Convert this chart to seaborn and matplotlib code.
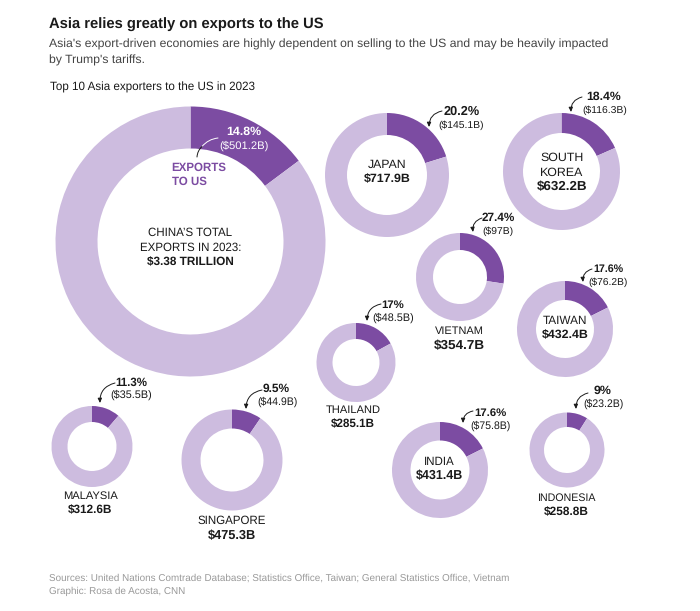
import matplotlib
matplotlib.use("Agg")
import matplotlib.pyplot as plt
import seaborn as sns

# --- data ---
countries = ["CHINA", "JAPAN", "SOUTH KOREA", "VIETNAM", "TAIWAN", "THAILAND", "INDIA", "INDONESIA", "MALAYSIA", "SINGAPORE"]
total_labels = ["$3.38 TRILLION", "$717.9B", "$632.2B", "$354.7B", "$432.4B", "$285.1B", "$431.4B", "$258.8B", "$312.6B", "$475.3B"]
us_share = [14.8, 20.2, 18.4, 27.4, 17.6, 17.0, 17.6, 9.0, 11.3, 9.5]
share_labels = ["14.8%", "20.2%", "18.4%", "27.4%", "17.6%", "17%", "17.6%", "9%", "11.3%", "9.5%"]
us_labels = ["($501.2B)", "($145.1B)", "($116.3B)", "($97B)", "($76.2B)", "($48.5B)", "($75.8B)", "($23.2B)", "($35.5B)", "($44.9B)"]

# --- layout in reference pixels, separate from the data ---
W, H = 700, 611
centers = [(190.5, 241.5), (387, 175), (561.5, 171.5), (460, 277), (565, 329), (356, 362.5), (440, 470), (567, 450), (92, 446.5), (232, 460)]
outer = [135, 62, 58.5, 44, 48, 39.5, 48, 37.5, 40.5, 50.5]
inner = [93, 40, 38.5, 27, 29, 23.5, 29.5, 23, 24.5, 31.5]
# country label: x, name y, value y, name size, value size, name lines
labels = {
    1: (387, [165], 179, 8.8, 8.9, ["JAPAN"]),
    2: (562, [158, 173], 187, 8.9, 9.6, ["SOUTH", "KOREA"]),
    3: (459, [331], 346, 7.9, 9.7, ["VIETNAM"]),
    4: (565, [321], 335, 8.5, 8.9, ["TAIWAN"]),
    5: (353, [410], 424, 8.0, 8.4, ["THAILAND"]),
    6: (439, [462], 476, 8.3, 9.0, ["INDIA"]),
    7: (566, [498], 512, 7.7, 8.6, ["INDONESIA"]),
    8: (90, [496], 510, 8.0, 8.5, ["MALAYSIA"]),
    9: (232, [521], 536, 8.3, 9.2, ["SINGAPORE"]),
}
# share label x,y,size ; us label x,y,size ; arrow start ; arrow end ; curvature
callouts = {
    1: (462, 112, 9.2, 461.5, 125, 7.5, (442, 111), (429, 127), 0.4),
    2: (604, 97, 8.8, 604.5, 110, 7.5, (582, 97), (571, 112), 0.4),
    3: (498, 218, 8.5, 498, 231, 7.5, (482, 218), (473, 232), 0.4),
    4: (608, 269, 7.7, 608.5, 282, 7.4, (592, 269), (583, 282), 0.4),
    5: (393, 305, 8.2, 393.5, 318, 7.8, (381, 304), (367, 321), 0.4),
    6: (490, 413, 8.2, 490, 426, 7.6, (473, 411), (463, 423), 0.4),
    7: (602.5, 391, 8.9, 603, 404, 7.6, (588, 393), (576, 409), 0.4),
    8: (131, 383, 8.3, 131.5, 395, 7.8, (115, 383), (100, 403), 0.4),
    9: (276, 389, 8.6, 277, 402, 7.6, (262, 390), (246, 409), 0.4),
}

sns.set_theme(style="white")
plt.rcParams["font.family"] = ["Liberation Sans", "DejaVu Sans"]
plt.rcParams["text.hinting"] = "no_hinting"
LIGHT, DARK = "#cdbcdf", "#7c4ca2"
INK = "#1a1a1a"

fig = plt.figure(figsize=(W / 100, H / 100), dpi=100, facecolor="white")

for share, (cx, cy), ro, ri in zip(us_share, centers, outer, inner):
    ax = fig.add_axes([(cx - ro) / W, 1 - (cy + ro) / H, 2 * ro / W, 2 * ro / H])
    ax.pie([share, 100 - share], colors=[DARK, LIGHT], startangle=90, counterclock=False,
           radius=1, wedgeprops=dict(width=1 - ri / ro, linewidth=0))
    ax.set_xlim(-1, 1)
    ax.set_ylim(-1, 1)
    ax.axis("off")

ov = fig.add_axes([0, 0, 1, 1], zorder=5)
ov.set_xlim(0, W)
ov.set_ylim(H, 0)
ov.axis("off")
ov.patch.set_alpha(0)


def t(x, y, s, size=8.3, weight="normal", color=INK, ha="center"):
    ov.text(x, y, s, fontsize=size, fontweight=weight, color=color, ha=ha, va="center")


def arrow(a, b, c, rad, style="-|>,head_width=0.1,head_length=0.22"):
    ov.annotate("", xy=b, xytext=a,
                arrowprops=dict(arrowstyle=style, color=c, lw=0.7,
                                connectionstyle=f"arc3,rad={rad}", shrinkA=0, shrinkB=0))


t(49, 24.5, "Asia relies greatly on exports to the US", 10.6, "bold", ha="left")
t(49, 44, "Asia's export-driven economies are highly dependent on selling to the US and may be heavily impacted", 8.8, color="#444444", ha="left")
t(49, 60.5, "by Trump's tariffs.", 8.8, color="#444444", ha="left")
t(50, 87.5, "Top 10 Asia exporters to the US in 2023", 8.35, ha="left")

# China, the large ring
t(243.5, 132, share_labels[0], 8.9, "bold", "white")
t(243.5, 146, us_labels[0], 8.1, color="white")
arrow((218, 138), (202, 146.5), "white", 0.2, "-")
arrow((202, 146.5), (197, 157), INK, 0.2, "-")
t(171.5, 168, "EXPORTS", 8.3, "bold", DARK, ha="left")
t(171.5, 182, "TO US", 8.3, "bold", DARK, ha="left")
t(190.5, 233, "CHINA\u2019S TOTAL")
t(190.5, 248, "EXPORTS IN 2023:")
t(190.5, 262, total_labels[0], 8.5, "bold")

for i, (x, name_ys, val_y, ns, vs, lines) in labels.items():
    for line, y in zip(lines, name_ys):
        t(x, y, line, ns)
    t(x, val_y, total_labels[i], vs, "bold")

for i, (sx, sy, ss, ux, uy, us, a, b, rad) in callouts.items():
    t(sx, sy, share_labels[i], ss, "bold")
    t(ux, uy, us_labels[i], us)
    arrow(a, b, INK, rad)

t(49, 578, "Sources: United Nations Comtrade Database; Statistics Office, Taiwan; General Statistics Office, Vietnam", 7.1, color="#999999", ha="left")
t(49, 591, "Graphic: Rosa de Acosta, CNN", 7.1, color="#999999", ha="left")

fig.savefig("out.png", dpi=100, facecolor="white")
